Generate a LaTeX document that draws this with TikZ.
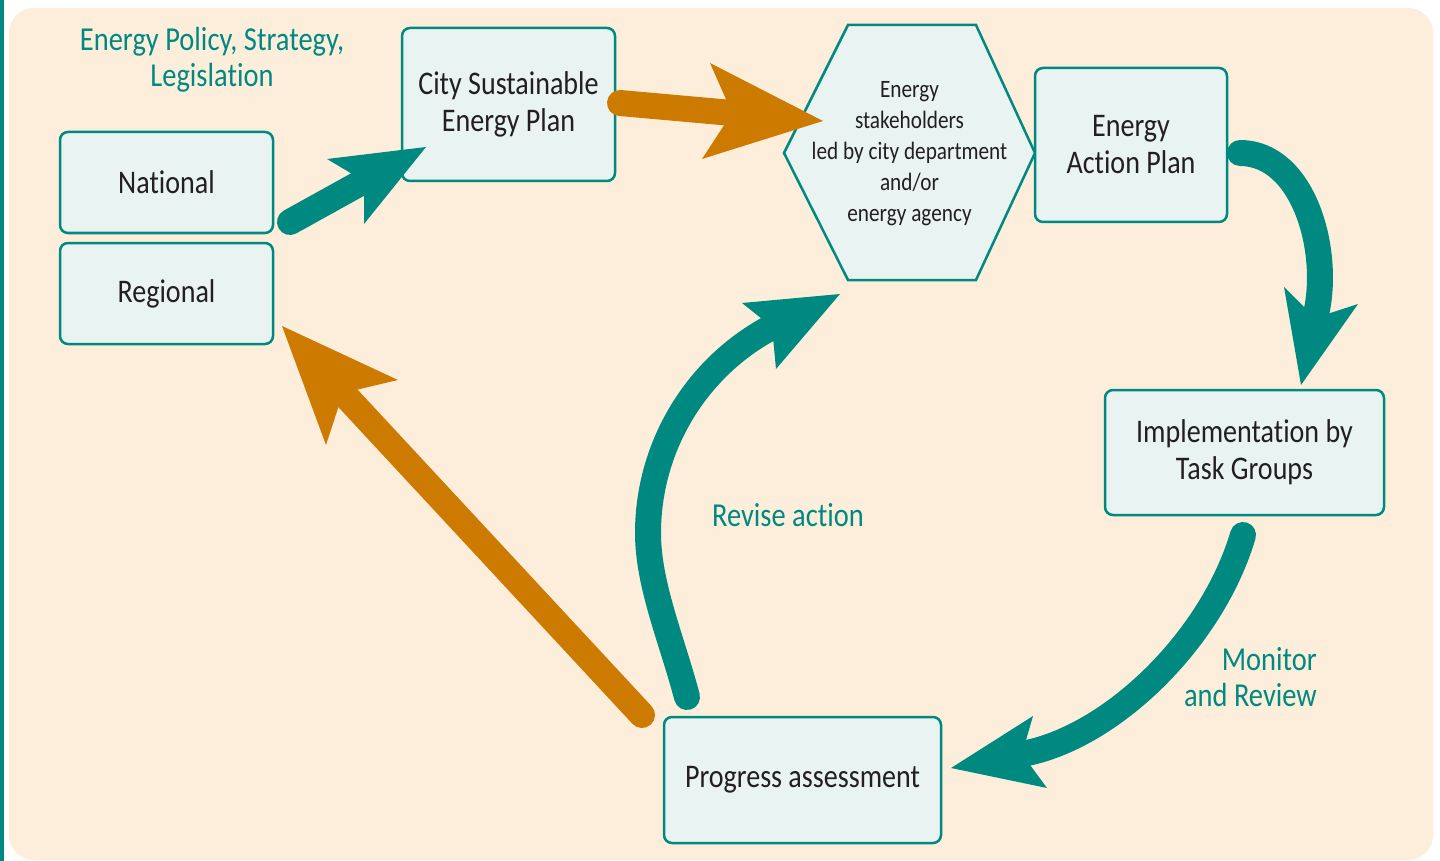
\documentclass[tikz,border=0pt]{standalone}
\usepackage{fontspec}
\setmainfont{Carlito}[FakeStretch=0.85, Ligatures=NoCommon]
\definecolor{tealc}{RGB}{0,137,128}
\definecolor{orangec}{RGB}{205,123,0}
\definecolor{peach}{RGB}{253,238,220}
\definecolor{boxfill}{RGB}{233,243,242}
\definecolor{txt}{RGB}{35,31,32}
\begin{document}
\begin{tikzpicture}[x=1pt,y=-1pt,
  box/.style={draw=tealc, line width=2.5pt, fill=boxfill, rounded corners=8pt,
    inner sep=0pt, align=center, text=txt, font=\fontsize{33}{37}\selectfont},
  lbl/.style={text=tealc, inner sep=0pt, font=\fontsize{33.5}{36}\selectfont},
  shaft/.style={line width=26pt, line cap=round},
  ]
\useasboundingbox (0,0) rectangle (1440,861);
\fill[white] (0,0) rectangle (1440,861);
\fill[tealc] (0,0) rectangle (4,861);
\fill[peach, rounded corners=25pt] (9,8) rectangle (1433,860);

% hexagon
\draw[draw=tealc, line width=2.5pt, fill=boxfill, line join=miter]
  (784,153) -- (848,25) -- (976,25) -- (1035,153) -- (976,280) -- (848,280) -- cycle;
\node[inner sep=0pt, align=center, text=txt, font=\fontsize{25}{31}\selectfont] (hex) at (909.5,154)
  {Energy\\stakeholders\\led by city department\\and/or\\energy agency};

% boxes
\node[box, minimum width=213pt, minimum height=101pt] (nat) at (166.5,182.5) {National};
\node[box, minimum width=213pt, minimum height=101pt] (reg) at (166.5,293.5) {Regional};
\node[box, minimum width=213pt, minimum height=153pt] (csep) at (508.5,104.5) {City Sustainable\\Energy Plan};
\node[box, minimum width=192pt, minimum height=154pt] (eap) at (1131,145) {Energy\\Action Plan};
\node[box, minimum width=279pt, minimum height=125pt] (impl) at (1244.5,452.5) {Implementation by\\Task Groups};
\node[box, minimum width=277pt, minimum height=126pt] (prog) at (802.5,780) {Progress assessment};

% labels
\node[lbl, align=center] (pol) at (212,60) {Energy Policy, Strategy,\\Legislation};
\node[lbl] (rev) at (788,515) {Revise action};
\node[lbl, align=right, anchor=east] (mon) at (1317,677) {Monitor\\and Review};

% arrow end points
\coordinate (a0) at (290,222);  \coordinate (a1) at (364,181);
\coordinate (b0) at (620,103);  \coordinate (b1) at (732,113);
\coordinate (c0) at (1240,153); \coordinate (c1) at (1315,318);
\coordinate (d0) at (1243,535); \coordinate (d1) at (1022,754);
\coordinate (e0) at (687,697);  \coordinate (em) at (648,533); \coordinate (e1) at (772,327);
\coordinate (f0) at (642,715);  \coordinate (f1) at (343,393);

% National -> City Sustainable Energy Plan
\draw[shaft, tealc] (a0) -- (a1);
\fill[tealc] (426,147) -- (327,159) -- (a1) -- (364,224) -- cycle;
% City Sustainable Energy Plan -> hexagon
\draw[shaft, orangec] (b0) -- (b1);
\fill[orangec] (823,121) -- (710,63) -- (b1) -- (702,159) -- cycle;
% Energy Action Plan -> Implementation
\draw[shaft, tealc] (c0) .. controls (1305,153) and (1332,255) .. (c1);
\fill[tealc] (1301,385) -- (1284,287) -- (c1) -- (1358,304) -- cycle;
% Implementation -> Progress
\draw[shaft, tealc] (d0) .. controls (1212,640) and (1111,738) .. (d1);
\fill[tealc] (951,768) -- (1033,716) -- (d1) -- (1047,788) -- cycle;
% Progress -> hexagon (Revise action)
\draw[shaft, tealc] (e0) .. controls (672,640) and (648,585) .. (em)
  .. controls (648,447) and (696,367) .. (e1);
\fill[tealc] (840,294) -- (742,303) -- (e1) -- (776,369) -- cycle;
% Progress -> Regional
\draw[shaft, orangec] (f0) -- (f1);
\fill[orangec] (282,326) -- (398,380) -- (f1) -- (326,445) -- cycle;
\end{tikzpicture}
\end{document}
